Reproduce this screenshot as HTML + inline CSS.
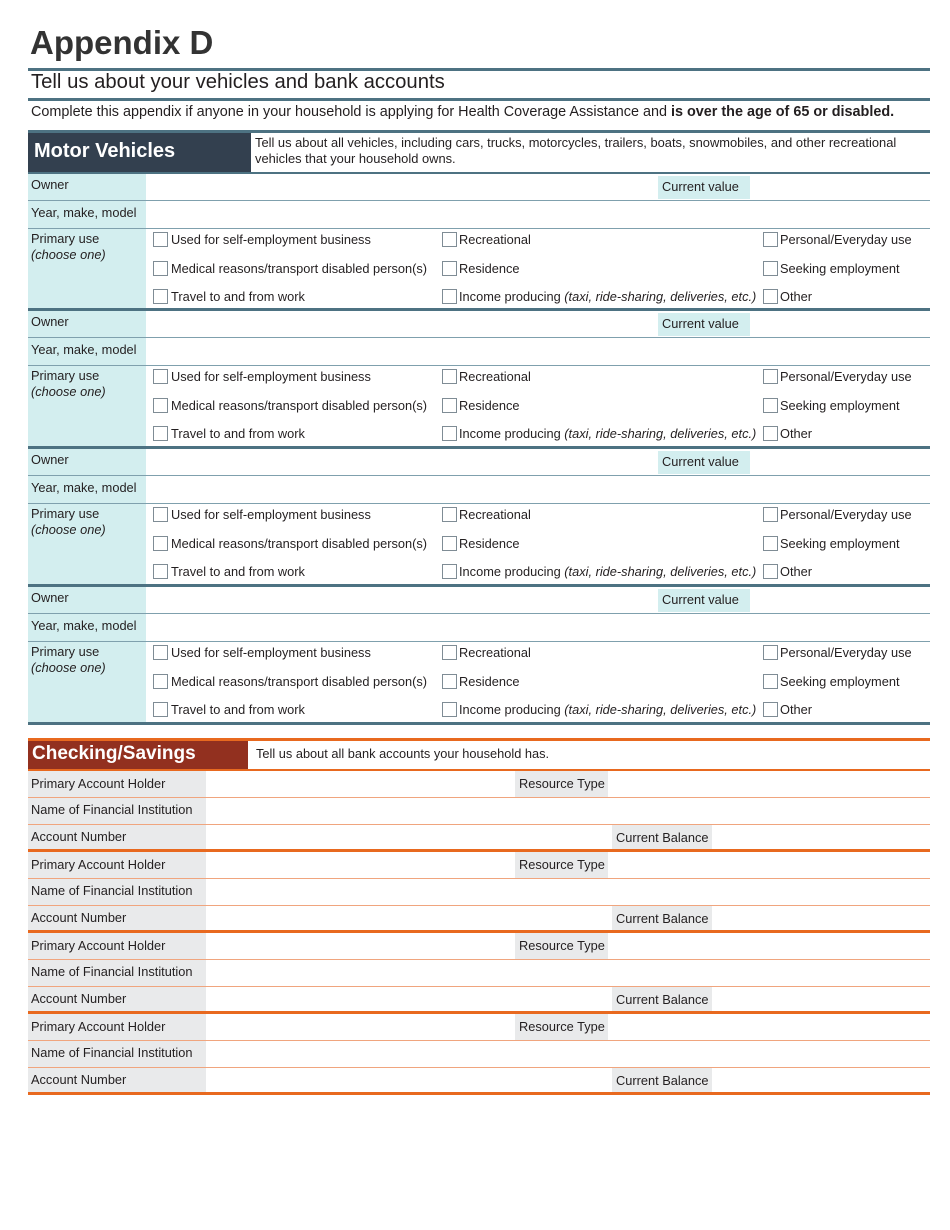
<!DOCTYPE html>
<html><head><meta charset="utf-8"><style>
*{margin:0;padding:0;box-sizing:border-box}
body{width:950px;height:1230px;background:#fff;font-family:"Liberation Sans",sans-serif;color:#231f20;position:relative;overflow:hidden}
.a{position:absolute;white-space:nowrap}
.t{font-size:12.8px}
.blk{position:absolute;left:28px;width:902px;height:138px;border-bottom:3px solid #4d7282}
.lab{position:absolute;left:0;top:0;width:118px;height:100%;background:#d3eeef}
.hl{position:absolute;left:0;width:902px;height:1px;background:#7fa0ad}
.cb{position:absolute;width:15px;height:15px;border:1px solid #7f8c95;background:#fff}
.cv{position:absolute;left:630px;top:2px;width:92px;height:23px;background:#d3eeef;font-size:12.8px;padding:3px 0 0 4px}
.cblk{position:absolute;left:28px;width:902px;height:81px;border-bottom:3px solid #e8691f}
.clab{position:absolute;left:0;top:0;width:178px;height:100%;background:#e9eaeb}
.ol{position:absolute;left:0;width:902px;height:1px;background:#f0a57e}
.rt{position:absolute;left:487px;top:0;width:93px;height:26px;background:#e9eaeb;font-size:12.8px;padding:5px 0 0 4px}
.cbal{position:absolute;left:584px;top:54px;width:100px;height:24px;background:#e9eaeb;font-size:12.8px;padding:5px 0 0 4px}
</style></head><body>
<div class="a" style="left:30px;top:24px;font-size:33px;font-weight:bold;color:#333">Appendix D</div>
<div class="a" style="left:28px;top:68px;width:902px;height:3px;background:#4d7282"></div>
<div class="a" style="left:31px;top:71px;font-size:20.3px;color:#231f20">Tell us about your vehicles and bank accounts</div>
<div class="a" style="left:28px;top:98px;width:902px;height:3px;background:#4d7282"></div>
<div class="a" style="left:31px;top:104px;font-size:14.4px">Complete this appendix if anyone in your household is applying for Health Coverage Assistance and <b>is over the age of 65 or disabled.</b></div>

<div class="a" style="left:28px;top:130px;width:902px;height:3px;background:#4d7282"></div>
<div class="a" style="left:28px;top:133px;width:223px;height:40px;background:#33404f;color:#fff;font-size:20px;font-weight:bold;padding:7px 0 0 6px">Motor Vehicles</div>
<div class="a" style="left:255px;top:135px;font-size:12.9px;line-height:16px">Tell us about all vehicles, including cars, trucks, motorcycles, trailers, boats, snowmobiles, and other recreational<br>vehicles that your household owns.</div>
<div class="a" style="left:28px;top:172px;width:902px;height:2px;background:#4d7282"></div>

<div class="blk" style="top:174px;height:137px">
<div class="lab"></div>
<div class="a t" style="left:3px;top:3px">Owner</div><div class="cv">Current value</div>
<div class="hl" style="top:26px"></div>
<div class="a t" style="left:3px;top:31px">Year, make, model</div>
<div class="hl" style="top:54px"></div>
<div class="a t" style="left:3px;top:57px;line-height:16px">Primary use<br><i>(choose one)</i></div>
<div class="cb" style="left:125px;top:58px"></div><div class="a t" style="left:143px;top:58px">Used for self-employment business</div>
<div class="cb" style="left:414px;top:58px"></div><div class="a t" style="left:431px;top:58px">Recreational</div>
<div class="cb" style="left:735px;top:58px"></div><div class="a t" style="left:752px;top:58px">Personal/Everyday use</div>
<div class="cb" style="left:125px;top:87px"></div><div class="a t" style="left:143px;top:87px">Medical reasons/transport disabled person(s)</div>
<div class="cb" style="left:414px;top:87px"></div><div class="a t" style="left:431px;top:87px">Residence</div>
<div class="cb" style="left:735px;top:87px"></div><div class="a t" style="left:752px;top:87px">Seeking employment</div>
<div class="cb" style="left:125px;top:115px"></div><div class="a t" style="left:143px;top:115px">Travel to and from work</div>
<div class="cb" style="left:414px;top:115px"></div><div class="a t" style="left:431px;top:115px">Income producing <i>(taxi, ride-sharing, deliveries, etc.)</i></div>
<div class="cb" style="left:735px;top:115px"></div><div class="a t" style="left:752px;top:115px">Other</div>
</div>

<div class="blk" style="top:311px">
<div class="lab"></div>
<div class="a t" style="left:3px;top:3px">Owner</div><div class="cv">Current value</div>
<div class="hl" style="top:26px"></div>
<div class="a t" style="left:3px;top:31px">Year, make, model</div>
<div class="hl" style="top:54px"></div>
<div class="a t" style="left:3px;top:57px;line-height:16px">Primary use<br><i>(choose one)</i></div>
<div class="cb" style="left:125px;top:58px"></div><div class="a t" style="left:143px;top:58px">Used for self-employment business</div>
<div class="cb" style="left:414px;top:58px"></div><div class="a t" style="left:431px;top:58px">Recreational</div>
<div class="cb" style="left:735px;top:58px"></div><div class="a t" style="left:752px;top:58px">Personal/Everyday use</div>
<div class="cb" style="left:125px;top:87px"></div><div class="a t" style="left:143px;top:87px">Medical reasons/transport disabled person(s)</div>
<div class="cb" style="left:414px;top:87px"></div><div class="a t" style="left:431px;top:87px">Residence</div>
<div class="cb" style="left:735px;top:87px"></div><div class="a t" style="left:752px;top:87px">Seeking employment</div>
<div class="cb" style="left:125px;top:115px"></div><div class="a t" style="left:143px;top:115px">Travel to and from work</div>
<div class="cb" style="left:414px;top:115px"></div><div class="a t" style="left:431px;top:115px">Income producing <i>(taxi, ride-sharing, deliveries, etc.)</i></div>
<div class="cb" style="left:735px;top:115px"></div><div class="a t" style="left:752px;top:115px">Other</div>
</div>

<div class="blk" style="top:449px">
<div class="lab"></div>
<div class="a t" style="left:3px;top:3px">Owner</div><div class="cv">Current value</div>
<div class="hl" style="top:26px"></div>
<div class="a t" style="left:3px;top:31px">Year, make, model</div>
<div class="hl" style="top:54px"></div>
<div class="a t" style="left:3px;top:57px;line-height:16px">Primary use<br><i>(choose one)</i></div>
<div class="cb" style="left:125px;top:58px"></div><div class="a t" style="left:143px;top:58px">Used for self-employment business</div>
<div class="cb" style="left:414px;top:58px"></div><div class="a t" style="left:431px;top:58px">Recreational</div>
<div class="cb" style="left:735px;top:58px"></div><div class="a t" style="left:752px;top:58px">Personal/Everyday use</div>
<div class="cb" style="left:125px;top:87px"></div><div class="a t" style="left:143px;top:87px">Medical reasons/transport disabled person(s)</div>
<div class="cb" style="left:414px;top:87px"></div><div class="a t" style="left:431px;top:87px">Residence</div>
<div class="cb" style="left:735px;top:87px"></div><div class="a t" style="left:752px;top:87px">Seeking employment</div>
<div class="cb" style="left:125px;top:115px"></div><div class="a t" style="left:143px;top:115px">Travel to and from work</div>
<div class="cb" style="left:414px;top:115px"></div><div class="a t" style="left:431px;top:115px">Income producing <i>(taxi, ride-sharing, deliveries, etc.)</i></div>
<div class="cb" style="left:735px;top:115px"></div><div class="a t" style="left:752px;top:115px">Other</div>
</div>

<div class="blk" style="top:587px">
<div class="lab"></div>
<div class="a t" style="left:3px;top:3px">Owner</div><div class="cv">Current value</div>
<div class="hl" style="top:26px"></div>
<div class="a t" style="left:3px;top:31px">Year, make, model</div>
<div class="hl" style="top:54px"></div>
<div class="a t" style="left:3px;top:57px;line-height:16px">Primary use<br><i>(choose one)</i></div>
<div class="cb" style="left:125px;top:58px"></div><div class="a t" style="left:143px;top:58px">Used for self-employment business</div>
<div class="cb" style="left:414px;top:58px"></div><div class="a t" style="left:431px;top:58px">Recreational</div>
<div class="cb" style="left:735px;top:58px"></div><div class="a t" style="left:752px;top:58px">Personal/Everyday use</div>
<div class="cb" style="left:125px;top:87px"></div><div class="a t" style="left:143px;top:87px">Medical reasons/transport disabled person(s)</div>
<div class="cb" style="left:414px;top:87px"></div><div class="a t" style="left:431px;top:87px">Residence</div>
<div class="cb" style="left:735px;top:87px"></div><div class="a t" style="left:752px;top:87px">Seeking employment</div>
<div class="cb" style="left:125px;top:115px"></div><div class="a t" style="left:143px;top:115px">Travel to and from work</div>
<div class="cb" style="left:414px;top:115px"></div><div class="a t" style="left:431px;top:115px">Income producing <i>(taxi, ride-sharing, deliveries, etc.)</i></div>
<div class="cb" style="left:735px;top:115px"></div><div class="a t" style="left:752px;top:115px">Other</div>
</div>

<div class="a" style="left:28px;top:738px;width:902px;height:3px;background:#e8691f"></div>
<div class="a" style="left:28px;top:741px;width:220px;height:29px;background:#92301f;color:#fff;font-size:19px;font-weight:bold;padding:2px 0 0 4px">Checking/Savings</div>
<div class="a" style="left:256px;top:746px;font-size:12.8px">Tell us about all bank accounts your household has.</div>
<div class="a" style="left:28px;top:769px;width:902px;height:2px;background:#e8691f"></div>

<div class="cblk" style="top:771px">
<div class="clab"></div><div class="rt">Resource Type</div>
<div class="a t" style="left:3px;top:5px">Primary Account Holder</div>
<div class="ol" style="top:26px"></div>
<div class="a t" style="left:3px;top:31px">Name of Financial Institution</div>
<div class="ol" style="top:53px"></div>
<div class="a t" style="left:3px;top:58px">Account Number</div><div class="cbal">Current Balance</div>
</div>
<div class="cblk" style="top:852px">
<div class="clab"></div><div class="rt">Resource Type</div>
<div class="a t" style="left:3px;top:5px">Primary Account Holder</div>
<div class="ol" style="top:26px"></div>
<div class="a t" style="left:3px;top:31px">Name of Financial Institution</div>
<div class="ol" style="top:53px"></div>
<div class="a t" style="left:3px;top:58px">Account Number</div><div class="cbal">Current Balance</div>
</div>
<div class="cblk" style="top:933px">
<div class="clab"></div><div class="rt">Resource Type</div>
<div class="a t" style="left:3px;top:5px">Primary Account Holder</div>
<div class="ol" style="top:26px"></div>
<div class="a t" style="left:3px;top:31px">Name of Financial Institution</div>
<div class="ol" style="top:53px"></div>
<div class="a t" style="left:3px;top:58px">Account Number</div><div class="cbal">Current Balance</div>
</div>
<div class="cblk" style="top:1014px">
<div class="clab"></div><div class="rt">Resource Type</div>
<div class="a t" style="left:3px;top:5px">Primary Account Holder</div>
<div class="ol" style="top:26px"></div>
<div class="a t" style="left:3px;top:31px">Name of Financial Institution</div>
<div class="ol" style="top:53px"></div>
<div class="a t" style="left:3px;top:58px">Account Number</div><div class="cbal">Current Balance</div>
</div>
</body></html>
